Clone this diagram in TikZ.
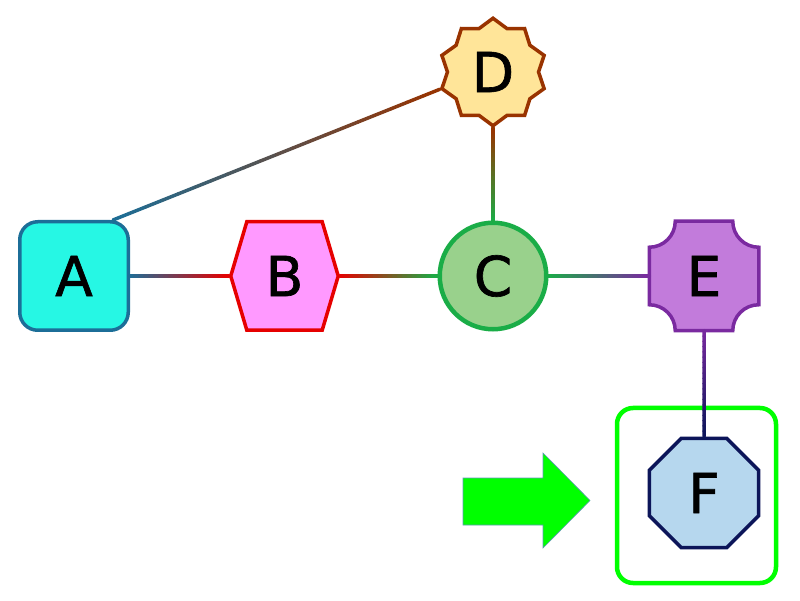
\documentclass[tikz,border=0pt]{standalone}
\usepackage{fontspec}
\newfontfamily\labelfont{DejaVu Sans}[FakeBold=1.2]
\usetikzlibrary{shapes.geometric,shapes.symbols,calc,backgrounds}

\definecolor{acolor}{HTML}{1C6E98}
\definecolor{afill}{HTML}{26F7E4}
\definecolor{bcolor}{HTML}{E60000}
\definecolor{bfill}{HTML}{FF99FF}
\definecolor{ccolor}{HTML}{1AAD47}
\definecolor{cfill}{HTML}{99D18C}
\definecolor{dcolor}{HTML}{993300}
\definecolor{dfill}{HTML}{FFE599}
\definecolor{ecolor}{HTML}{7A2AA0}
\definecolor{efill}{HTML}{C27BDB}
\definecolor{fcolor}{HTML}{0C1559}
\definecolor{ffill}{HTML}{B6D7EE}
\definecolor{lime}{HTML}{00FF00}

\tikzset{
  shapenode/.style={line width=3.5pt, text=black, inner sep=0pt,
    font=\labelfont\fontsize{55}{55}\selectfont},
  edge/.style={line width=3.5pt, line cap=round},
}

% edge that fades from the colour of one node to the other
\newcommand{\gradedge}[4]{%
  \foreach \k in {1,...,20}{%
    \pgfmathsetmacro{\pa}{(\k-1)/20}%
    \pgfmathsetmacro{\pb}{\k/20}%
    \pgfmathsetmacro{\mix}{102.5-5*\k}%
    \draw[edge, #3!\mix!#4] ($(#1)!\pa!(#2)$) -- ($(#1)!\pb!(#2)$);
  }}

\begin{document}
\begin{tikzpicture}[x=1pt,y=1pt]
        \useasboundingbox (0,0) rectangle (800,600);

        % Nodes
        \node[shapenode, rectangle, rounded corners=18pt, draw=acolor, fill=afill,
              minimum size=108.5pt] (A) at (74,324) {A};
        \node[shapenode, signal, signal to=west and east, signal pointer angle=147,
              draw=bcolor, fill=bfill, minimum width=107.5pt, minimum height=108.5pt] (B) at (284.5,324) {B};
        \node[shapenode, circle, line width=4.5pt, draw=ccolor, fill=cfill,
              minimum size=106.5pt] (C) at (493,324) {C};
        \node[shapenode, star, star points=10, star point ratio=1.18, draw=dcolor, fill=dfill,
              minimum size=107.5pt] (D) at (493,528) {D};
        \node[shapenode, rectangle, outer sep=0pt, minimum size=109.5pt] (E) at (704,324) {E};
        \node[shapenode, regular polygon, regular polygon sides=8, draw=fcolor, fill=ffill,
              minimum size=118.5pt] (F) at (704,107) {F};

        % Body of E with hollow corners
        \begin{scope}[on background layer]
          \draw[line width=3.5pt, draw=ecolor, fill=efill]
            ([xshift=26pt]E.north west) -- ([xshift=-26pt]E.north east)
            arc[start angle=180, end angle=270, radius=26pt]
            -- ([yshift=26pt]E.south east)
            arc[start angle=90, end angle=180, radius=26pt]
            -- ([xshift=26pt]E.south west)
            arc[start angle=0, end angle=90, radius=26pt]
            -- ([yshift=-26pt]E.north west)
            arc[start angle=270, end angle=360, radius=26pt] -- cycle;
        \end{scope}

        % Highlight box and arrow
        \node[draw=lime, line width=4.5pt, rounded corners=16pt,
              minimum width=159pt, minimum height=175pt] (frame) at (696.5,104.5) {};
        \draw[fill=lime, draw=acolor!70, line width=0.6pt]
          (463,122) -- (543,122) -- (543,147) -- (590,99.5) -- (543,52) -- (543,75) -- (463,75) -- cycle;

        % Edges
        \coordinate (acorner) at ([xshift=-17pt]A.north east);
        \gradedge{A.east}{B.west}{acolor}{bcolor}
        \gradedge{B.east}{C.west}{bcolor}{ccolor}
        \gradedge{C.east}{E.west}{ccolor}{ecolor}
        \gradedge{C.north}{D.outer point 6}{ccolor}{dcolor}
        \gradedge{acorner}{D.outer point 4}{acolor}{dcolor}
        \gradedge{E.south}{F.north}{ecolor}{fcolor}
    \end{tikzpicture}
\end{document}
